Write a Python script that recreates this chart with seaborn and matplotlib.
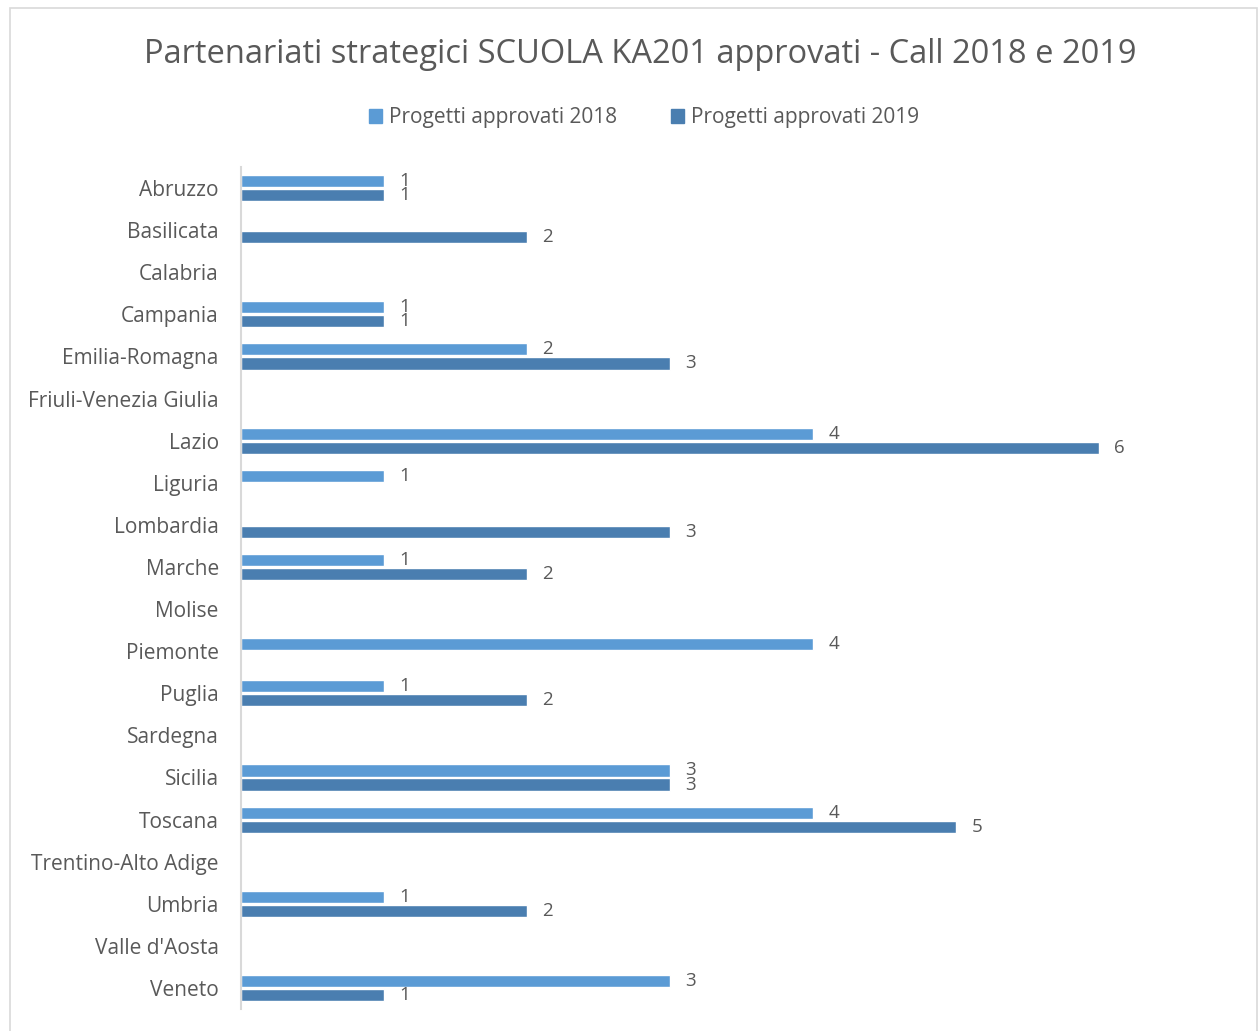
import matplotlib
matplotlib.use("Agg")
import matplotlib.pyplot as plt
import matplotlib.patches as mpatches
import pandas as pd
import seaborn as sns

regions = [
    "Abruzzo", "Basilicata", "Calabria", "Campania", "Emilia-Romagna",
    "Friuli-Venezia Giulia", "Lazio", "Liguria", "Lombardia", "Marche",
    "Molise", "Piemonte", "Puglia", "Sardegna", "Sicilia", "Toscana",
    "Trentino-Alto Adige", "Umbria", "Valle d'Aosta", "Veneto",
]
approved_2018 = [1, 0, 0, 1, 2, 0, 4, 1, 0, 1, 0, 4, 1, 0, 3, 4, 0, 1, 0, 3]
approved_2019 = [1, 2, 0, 1, 3, 0, 6, 0, 3, 2, 0, 0, 2, 0, 3, 5, 0, 2, 0, 1]
series_names = ["Progetti approvati 2018", "Progetti approvati 2019"]
colors = ["#5B9BD5", "#4A7EB0"]

text_color = "#595959"

sns.set_theme(style="white")
plt.rcParams["font.family"] = ["Open Sans", "DejaVu Sans"]

frame = pd.DataFrame({
    "region": regions * 2,
    "value": approved_2018 + approved_2019,
    "series": [series_names[0]] * len(regions) + [series_names[1]] * len(regions),
})

fig = plt.figure(figsize=(12.6, 10.31), dpi=100)
ax = fig.add_axes([0.1913, 0.0213, 0.7944, 0.8167])

sns.barplot(
    data=frame, x="value", y="region", hue="series", orient="h",
    order=regions, hue_order=series_names, palette=colors,
    width=0.667, gap=0.14, saturation=1, legend=False, ax=ax,
)

for container, values in zip(ax.containers, [approved_2018, approved_2019]):
    labels = [str(v) if v > 0 else "" for v in values]
    ax.bar_label(container, labels=labels, padding=11, fontsize=13.5, color=text_color)

ax.set_xlim(0, 7)
ax.set_ylim(len(regions) - 0.5, -0.5)
ax.set_xlabel("")
ax.set_ylabel("")
ax.set_xticks([])
ax.tick_params(axis="y", length=0, pad=16, labelsize=15, labelcolor=text_color)
for side in ["top", "right", "bottom"]:
    ax.spines[side].set_visible(False)
ax.spines["left"].set_color("#D9D9D9")
ax.spines["left"].set_linewidth(1.5)

fig.text(0.508, 0.947, "Partenariati strategici SCUOLA KA201 approvati - Call 2018 e 2019",
         ha="center", va="center", fontsize=23.5, color=text_color)

handles = [mpatches.Patch(color=c, label=n) for c, n in zip(colors, series_names)]
fig.legend(handles=handles, loc="center", bbox_to_anchor=(0.511, 0.886), ncol=2,
           frameon=False, fontsize=15, labelcolor=text_color, handlelength=0.65,
           handleheight=0.65, handletextpad=0.3, columnspacing=2.6)

border = mpatches.Rectangle((0.008, -0.01), 0.99, 1.0025, transform=fig.transFigure,
                            fill=False, edgecolor="#D9D9D9", linewidth=1.2)
fig.patches.append(border)

fig.savefig("out.png", dpi=100)
